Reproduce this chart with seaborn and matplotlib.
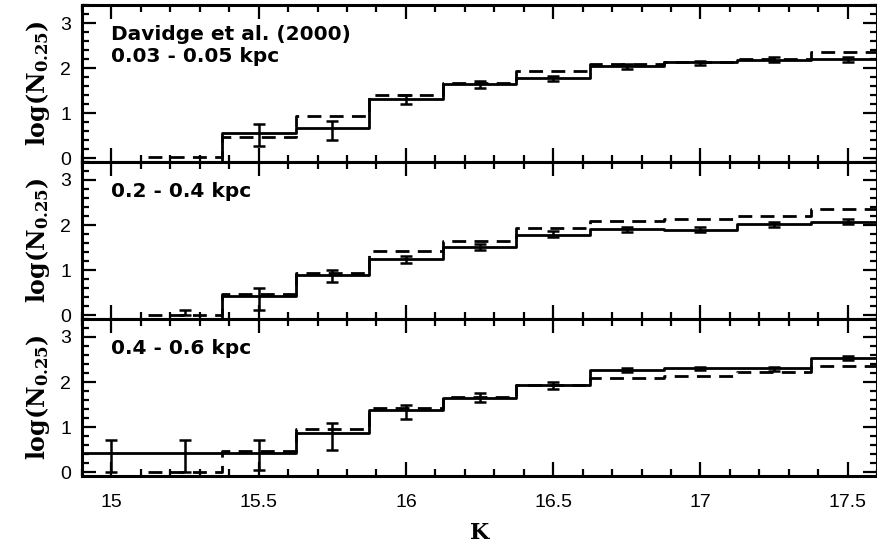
import numpy as np
import matplotlib
matplotlib.use('Agg')
import matplotlib.pyplot as plt
import seaborn as sns

# bin centres in K (bin width 0.25)
k_centres = [15.0, 15.25, 15.5, 15.75, 16.0, 16.25, 16.5, 16.75, 17.0, 17.25, 17.5]
bin_width = 0.25

panel_labels = ['Davidge et al. (2000)\n0.03 - 0.05 kpc', '0.2 - 0.4 kpc', '0.4 - 0.6 kpc']

# solid histograms (-1 = empty bin, drawn below the axis)
solid_top = [-1, -1, 0.57, 0.67, 1.31, 1.64, 1.77, 2.04, 2.13, 2.19, 2.20]
solid_mid = [-1, -1, 0.42, 0.89, 1.24, 1.52, 1.78, 1.91, 1.90, 2.02, 2.07]
solid_bot = [0.42, 0.42, 0.42, 0.88, 1.38, 1.65, 1.93, 2.27, 2.30, 2.30, 2.53]

# dashed histograms (start at the 15.25 bin)
dashed_top = [0.02, 0.47, 0.94, 1.41, 1.67, 1.94, 2.10, 2.14, 2.21, 2.36]
dashed_mid = [0.01, 0.48, 0.94, 1.43, 1.65, 1.93, 2.10, 2.13, 2.20, 2.35]
dashed_bot = [0.00, 0.47, 0.95, 1.42, 1.66, 1.93, 2.10, 2.14, 2.22, 2.36]

# error bar limits (nan = no bar)
err_lo_top = [np.nan, np.nan, 0.27, 0.41, 1.20, 1.57, 1.71, 1.98, 2.07, 2.13, 2.14]
err_hi_top = [np.nan, np.nan, 0.76, 0.83, 1.40, 1.71, 1.83, 2.10, 2.16, 2.24, 2.24]
err_lo_mid = [np.nan, 0.00, 0.11, 0.74, 1.15, 1.44, 1.73, 1.85, 1.84, 1.96, 2.02]
err_hi_mid = [np.nan, 0.12, 0.61, 1.01, 1.31, 1.59, 1.87, 1.96, 1.96, 2.07, 2.13]
err_lo_bot = [0.00, 0.00, 0.05, 0.50, 1.18, 1.56, 1.84, 2.23, 2.26, 2.25, 2.49]
err_hi_bot = [0.71, 0.71, 0.71, 1.10, 1.48, 1.76, 2.00, 2.32, 2.34, 2.34, 2.57]

x_ticks = [15, 15.5, 16, 16.5, 17, 17.5]
x_tick_labels = ['15', '15.5', '16', '16.5', '17', '17.5']
y_ticks = [0, 1, 2, 3]

sns.set_style('ticks')
plt.rcParams['font.family'] = ['Liberation Sans', 'DejaVu Sans']
plt.rcParams['mathtext.fontset'] = 'dejavuserif'
plt.rcParams['text.color'] = 'black'
plt.rcParams['axes.labelcolor'] = 'black'

fig, axes = plt.subplots(3, 1, figsize=(8.78, 5.52), dpi=100, sharex=True)
fig.subplots_adjust(left=0.0934, right=0.999, top=0.991, bottom=0.138, hspace=0)

solids = [solid_top, solid_mid, solid_bot]
dasheds = [dashed_top, dashed_mid, dashed_bot]
err_los = [err_lo_top, err_lo_mid, err_lo_bot]
err_his = [err_hi_top, err_hi_mid, err_hi_bot]

centres = np.array(k_centres)
edges = np.append(centres - bin_width / 2, centres[-1] + bin_width / 2)

for i, ax in enumerate(axes):
    s = np.array(solids[i])
    d = np.array(dasheds[i])
    sns.lineplot(x=edges, y=np.append(s, s[-1]), drawstyle='steps-post',
                 color='black', lw=2, ax=ax)
    sns.lineplot(x=edges[1:], y=np.append(d, d[-1]), drawstyle='steps-post',
                 color='black', lw=2, linestyle=(0, (5, 3)), ax=ax)

    lo = np.array(err_los[i])
    hi = np.array(err_his[i])
    ok = ~np.isnan(lo)
    ax.errorbar(centres[ok], (lo[ok] + hi[ok]) / 2, yerr=(hi[ok] - lo[ok]) / 2,
                fmt='none', ecolor='black', elinewidth=1.8, capsize=4, capthick=1.8)

    ax.text(0.037, 0.87, panel_labels[i], transform=ax.transAxes,
            ha='left', va='top', fontsize=14.5, fontweight='bold', linespacing=1.15,
            family='DejaVu Sans', color='black')

    ax.set_xlim(14.9, 17.58)
    ax.set_ylim(-0.08, 3.4)
    ax.set_xticks(x_ticks)
    ax.set_xticks(np.arange(14.9, 17.6, 0.1), minor=True)
    ax.set_yticks(y_ticks)
    ax.set_yticks(np.arange(0, 3.41, 0.2), minor=True)
    ax.tick_params(which='both', direction='in', top=True, right=True,
                   width=1.6, colors='black', labelsize=14)
    ax.tick_params(which='major', length=10)
    ax.tick_params(which='minor', length=5)
    ax.tick_params(axis='y', pad=8)
    ax.tick_params(axis='x', pad=13)
    for sp in ax.spines.values():
        sp.set_visible(True)
        sp.set_linewidth(2.2)
        sp.set_color('black')
    ax.set_ylabel(r'$\mathbf{log(N_{0.25})}$', fontsize=17, labelpad=6)
    ax.set_xlabel('')

axes[-1].set_xticklabels(x_tick_labels)
axes[-1].set_xlabel(r'$\mathbf{K}$', fontsize=16, labelpad=9)

fig.savefig('out.png', dpi=100)
